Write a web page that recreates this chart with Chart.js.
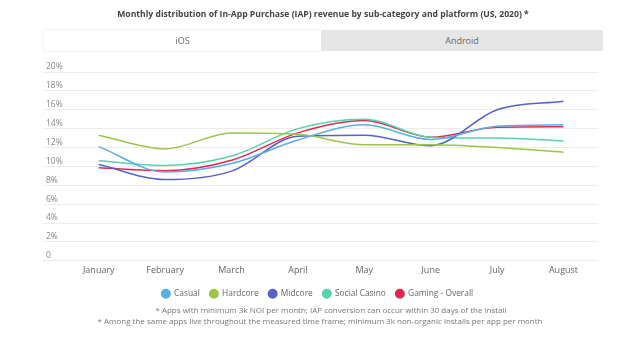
<!DOCTYPE html>
<html>
<head>
<meta charset="utf-8">
<script src="https://cdn.jsdelivr.net/npm/chart.js@4"></script>
<style>
  body { margin: 0; background: #fff; font-family: "Open Sans", sans-serif; }
  #wrap { position: relative; width: 640px; height: 343px; overflow: hidden; }
  #chart { position: absolute; left: 0; top: 0; }
  .title { position: absolute; top: 8px; left: 3px; width: 640px; text-align: center;
    font-size: 8.6px; font-weight: bold; color: #444; }
  .tab { position: absolute; top: 30px; height: 21px; line-height: 21px; text-align: center;
    font-size: 9px; color: #666; }
  .tab.on { left: 44px; width: 277px; background: #fff; box-shadow: 0 0 2px rgba(0,0,0,0.15); }
  .tab.off { left: 321px; width: 282px; background: #e6e6e6; }
  .note { position: absolute; left: 0; width: 640px; text-align: center; font-size: 8px; color: #777; }
</style>
</head>
<body>
<div id="wrap">
  <canvas id="chart" width="640" height="343"></canvas>
  <div class="title">Monthly distribution of In-App Purchase (IAP) revenue by sub-category and platform (US, 2020) *</div>
  <div class="tab on">iOS</div>
  <div class="tab off">Android</div>
  <div class="note" style="top:304px; left:11px">* Apps with minimum 3k NOI per month; IAP conversion can occur within 30 days of the install</div>
  <div class="note" style="top:315px">* Among the same apps live throughout the measured time frame; minimum 3k non-organic installs per app per month</div>
</div>
<script>
const months = ['January', 'February', 'March', 'April', 'May', 'June', 'July', 'August'];
const casual = [12.1, 9.4, 10.3, 12.8, 14.4, 12.85, 14.25, 14.4];
const hardcore = [13.3, 11.85, 13.55, 13.4, 12.3, 12.3, 12.0, 11.5];
const midcore = [10.2, 8.6, 9.5, 13.2, 13.3, 12.2, 16.0, 16.9];
const socialCasino = [10.6, 10.1, 11.1, 14.0, 15.0, 13.1, 13.0, 12.7];
const gamingOverall = [9.85, 9.55, 10.65, 13.55, 14.85, 13.1, 14.15, 14.2];
const yTicks = ['0', '2%', '4%', '6%', '8%', '10%', '12%', '14%', '16%', '18%', '20%'];

function series(label, values, color) {
    return {
        label: label,
        data: values.map(function (v, i) { return { x: i, y: v }; }),
        borderColor: color,
        backgroundColor: color,
        borderWidth: 1.5,
        pointRadius: 0,
        cubicInterpolationMode: 'monotone',
        fill: false
    };
}

new Chart(document.getElementById('chart'), {
    type: 'line',
    data: {
        datasets: [
            series('Casual', casual, '#5aaee6'),
            series('Hardcore', hardcore, '#9cc649'),
            series('Midcore', midcore, '#5463c4'),
            series('Social Casino', socialCasino, '#56d2ac'),
            series('Gaming - Overall', gamingOverall, '#e0284f')
        ]
    },
    options: {
        responsive: false,
        animation: false,
        layout: { padding: { left: 37, right: 42, top: 72, bottom: 35 } },
        plugins: {
            tooltip: { enabled: false },
            legend: {
                position: 'bottom',
                labels: {
                    usePointStyle: true,
                    pointStyle: 'circle',
                    boxWidth: 8,
                    boxHeight: 6,
                    padding: 10,
                    color: '#666',
                    font: { family: 'Open Sans', size: 8.4 }
                }
            }
        },
        scales: {
            x: {
                type: 'linear',
                min: -0.84,
                max: 7.52,
                grid: { display: false, drawTicks: false },
                border: { display: false },
                ticks: {
                    stepSize: 1,
                    includeBounds: false,
                    padding: 4,
                    color: '#666',
                    font: { family: 'Open Sans', size: 9 },
                    callback: function (v) { return months[v] || ''; }
                }
            },
            y: {
                min: 0,
                max: 20,
                grid: { color: '#ececec', drawTicks: false },
                border: { display: false },
                ticks: {
                    stepSize: 2,
                    mirror: true,
                    padding: 3,
                    labelOffset: -5,
                    color: '#888',
                    font: { family: 'Open Sans', size: 8.5 },
                    callback: function (v) { return yTicks[v / 2]; }
                }
            }
        }
    }
});
</script>
</body>
</html>
